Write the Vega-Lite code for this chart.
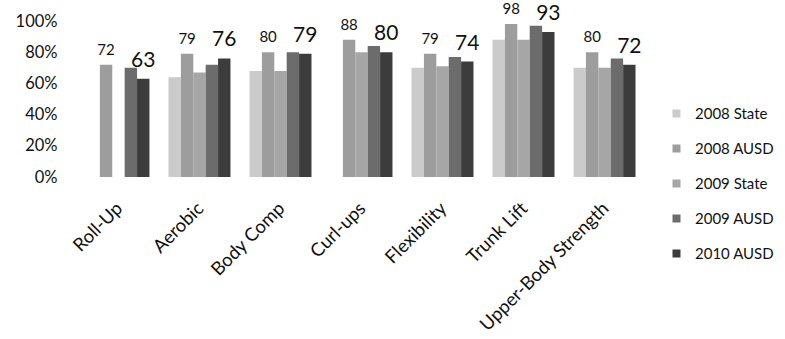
{
  "$schema": "https://vega.github.io/schema/vega-lite/v6.json",
  "autosize": "none",
  "width": 567,
  "height": 156,
  "padding": {"left": 78, "top": 21, "right": 140, "bottom": 162},
  "background": "white",
  "config": {
    "font": "Lato",
    "view": {"stroke": null}
  },
  "data": {
    "values": [
      {"test": "Roll-Up", "group": "2008 AUSD", "pct": 72},
      {"test": "Roll-Up", "group": "2009 AUSD", "pct": 70},
      {"test": "Roll-Up", "group": "2010 AUSD", "pct": 63},
      {"test": "Aerobic", "group": "2008 State", "pct": 64},
      {"test": "Aerobic", "group": "2008 AUSD", "pct": 79},
      {"test": "Aerobic", "group": "2009 State", "pct": 67},
      {"test": "Aerobic", "group": "2009 AUSD", "pct": 72},
      {"test": "Aerobic", "group": "2010 AUSD", "pct": 76},
      {"test": "Body Comp", "group": "2008 State", "pct": 68},
      {"test": "Body Comp", "group": "2008 AUSD", "pct": 80},
      {"test": "Body Comp", "group": "2009 State", "pct": 68},
      {"test": "Body Comp", "group": "2009 AUSD", "pct": 80},
      {"test": "Body Comp", "group": "2010 AUSD", "pct": 79},
      {"test": "Curl-ups", "group": "2008 AUSD", "pct": 88},
      {"test": "Curl-ups", "group": "2009 State", "pct": 80},
      {"test": "Curl-ups", "group": "2009 AUSD", "pct": 84},
      {"test": "Curl-ups", "group": "2010 AUSD", "pct": 80},
      {"test": "Flexibility", "group": "2008 State", "pct": 70},
      {"test": "Flexibility", "group": "2008 AUSD", "pct": 79},
      {"test": "Flexibility", "group": "2009 State", "pct": 71},
      {"test": "Flexibility", "group": "2009 AUSD", "pct": 77},
      {"test": "Flexibility", "group": "2010 AUSD", "pct": 74},
      {"test": "Trunk Lift", "group": "2008 State", "pct": 88},
      {"test": "Trunk Lift", "group": "2008 AUSD", "pct": 98},
      {"test": "Trunk Lift", "group": "2009 State", "pct": 88},
      {"test": "Trunk Lift", "group": "2009 AUSD", "pct": 97},
      {"test": "Trunk Lift", "group": "2010 AUSD", "pct": 93},
      {"test": "Upper-Body Strength", "group": "2008 State", "pct": 70},
      {"test": "Upper-Body Strength", "group": "2008 AUSD", "pct": 80},
      {"test": "Upper-Body Strength", "group": "2009 State", "pct": 70},
      {"test": "Upper-Body Strength", "group": "2009 AUSD", "pct": 76},
      {"test": "Upper-Body Strength", "group": "2010 AUSD", "pct": 72}
    ]
  },
  "encoding": {
    "x": {
      "field": "test",
      "type": "nominal",
      "sort": null,
      "scale": {"paddingInner": 0.235, "paddingOuter": 0.117},
      "axis": {
        "title": null,
        "domain": false,
        "ticks": false,
        "labelAngle": -45,
        "labelAlign": "right",
        "labelBaseline": "middle",
        "labelPadding": 28,
        "labelOffset": 1,
        "labelFontSize": 18.5,
        "labelColor": "#111111"
      }
    },
    "xOffset": {
      "field": "group",
      "type": "nominal",
      "scale": {"domain": ["2008 State", "2008 AUSD", "2009 State", "2009 AUSD", "2010 AUSD"]}
    },
    "y": {
      "field": "pct",
      "type": "quantitative",
      "scale": {"domain": [0, 100], "nice": false},
      "axis": {
        "title": null,
        "domain": false,
        "ticks": false,
        "grid": false,
        "values": [0, 20, 40, 60, 80, 100],
        "labelExpr": "datum.value + '%'",
        "labelPadding": 21,
        "labelFontSize": 16.5,
        "labelColor": "#111111"
      }
    }
  },
  "layer": [
    {
      "mark": {"type": "bar"},
      "encoding": {
        "color": {
          "field": "group",
          "type": "nominal",
          "scale": {
            "domain": ["2008 State", "2008 AUSD", "2009 State", "2009 AUSD", "2010 AUSD"],
            "range": ["#cbcbcb", "#9d9d9d", "#a6a6a6", "#6c6c6c", "#3c3c3c"]
          },
          "legend": {
            "title": null,
            "orient": "none",
            "legendX": 591,
            "legendY": 85,
            "padding": 0,
            "symbolType": "square",
            "symbolSize": 64,
            "symbolStrokeWidth": 0,
            "labelFontSize": 15,
            "labelOffset": 11,
            "labelColor": "#111111",
            "rowPadding": 19
          }
        }
      }
    },
    {
      "transform": [{"filter": "datum.group === '2008 AUSD'"}],
      "mark": {"type": "text", "baseline": "alphabetic", "dy": -10, "fontSize": 15, "color": "#111111"},
      "encoding": {"text": {"field": "pct", "type": "quantitative"}}
    },
    {
      "transform": [{"filter": "datum.group === '2010 AUSD'"}],
      "mark": {"type": "text", "baseline": "alphabetic", "dy": -12, "fontSize": 21, "color": "#111111"},
      "encoding": {"text": {"field": "pct", "type": "quantitative"}}
    }
  ]
}
